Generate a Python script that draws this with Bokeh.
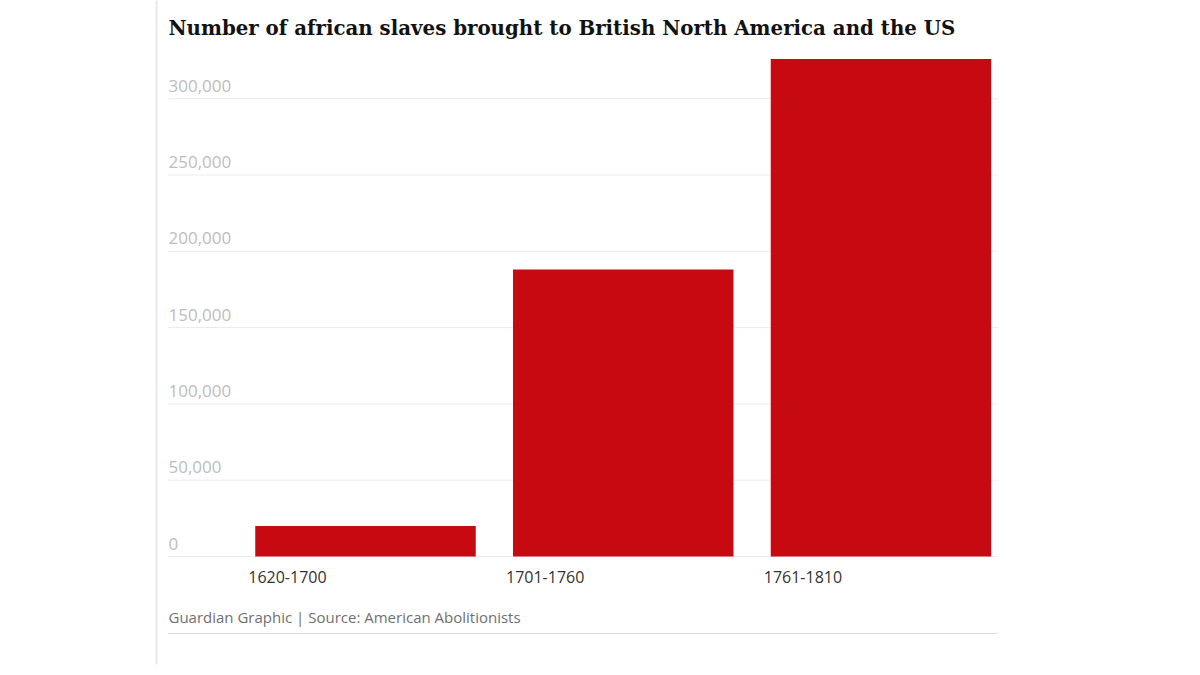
from bokeh.plotting import figure
from bokeh.models import Range1d, ColumnDataSource
from bokeh.core.properties import value
from bokeh.embed import file_html
from bokeh.resources import INLINE

# --- data -------------------------------------------------------------
periods = ["1620-1700", "1701-1760", "1761-1810"]
slaves_brought = [20000, 188000, 326000]
tick_values = [0, 50000, 100000, 150000, 200000, 250000, 300000]
tick_labels = ["0", "50,000", "100,000", "150,000", "200,000", "250,000", "300,000"]
title_text = "Number of african slaves brought to British North America and the US"
source_text = "Guardian Graphic | Source: American Abolitionists"

# --- page geometry (pixels) ------------------------------------------
W, H = 1200, 675
SLOT_PX = 257.75          # distance between neighbouring bar centres
FIRST_CENTRE_PX = 365     # centre of the first bar
ZERO_PX = 556             # vertical position of the zero line
PX_PER_UNIT = 76.3 / 50000
BAR_PX = 220.5
GRID_LEFT_PX, GRID_RIGHT_PX = 168, 997


def sx(px):
    return (px - FIRST_CENTRE_PX) / SLOT_PX


def sy(py):
    return (ZERO_PX - py) / PX_PER_UNIT


p = figure(
    width=W, height=H,
    x_range=Range1d(sx(0), sx(W)),
    y_range=Range1d(sy(H), sy(0)),
    x_axis_type=None, y_axis_type=None,
    min_border=0, toolbar_location=None, output_backend="svg",
    outline_line_color=None, background_fill_color="white",
    border_fill_color="white",
)
p.grid.visible = False

# gridlines
n = len(tick_values)
p.segment(x0=[sx(GRID_LEFT_PX)] * n, x1=[sx(GRID_RIGHT_PX)] * n,
          y0=tick_values, y1=tick_values, line_color="#ebebeb", line_width=1)

# y tick labels, sitting on top of their gridlines
p.text(x=[sx(GRID_LEFT_PX)] * n, y=tick_values, text=tick_labels,
       text_font=value("Open Sans"), text_font_size="17px",
       text_color="#bdbdbd", text_align="left", text_baseline="alphabetic",
       y_offset=-13)

# bars
src = ColumnDataSource(dict(idx=list(range(len(periods))), val=slaves_brought,
                            period=periods))
bar_w = BAR_PX / SLOT_PX
p.vbar(x="idx", top="val", bottom=0, width=bar_w, source=src,
       fill_color="#c70a12", line_color=None)

# period labels, left aligned under each bar
p.text(x=[i - bar_w / 2 for i in range(len(periods))], y=[0] * len(periods),
       text=periods, text_font=value("Open Sans"), text_font_size="16px",
       text_color="#333333", text_align="left", text_baseline="alphabetic",
       x_offset=-7, y_offset=20)

# title
p.text(x=[sx(GRID_LEFT_PX)], y=[sy(27)], text=[title_text],
       text_font=value("DejaVu Serif"), text_font_style="bold",
       text_font_size="19.8px", text_color="#121212",
       text_align="left", text_baseline="alphabetic")

# source line and rule beneath it
p.text(x=[sx(GRID_LEFT_PX)], y=[sy(616)], text=[source_text],
       text_font=value("Open Sans"), text_font_size="15px",
       text_color="#707070", text_align="left", text_baseline="alphabetic")
p.segment(x0=[sx(GRID_LEFT_PX)], x1=[sx(GRID_RIGHT_PX)],
          y0=[sy(633)], y1=[sy(633)], line_color="#dcdcdc", line_width=1)

# column rule on the left edge
p.segment(x0=[sx(156)], x1=[sx(156)], y0=[sy(0)], y1=[sy(664)],
          line_color="#e8e8e8", line_width=2)

open("out.html", "w").write(file_html(p, INLINE))
